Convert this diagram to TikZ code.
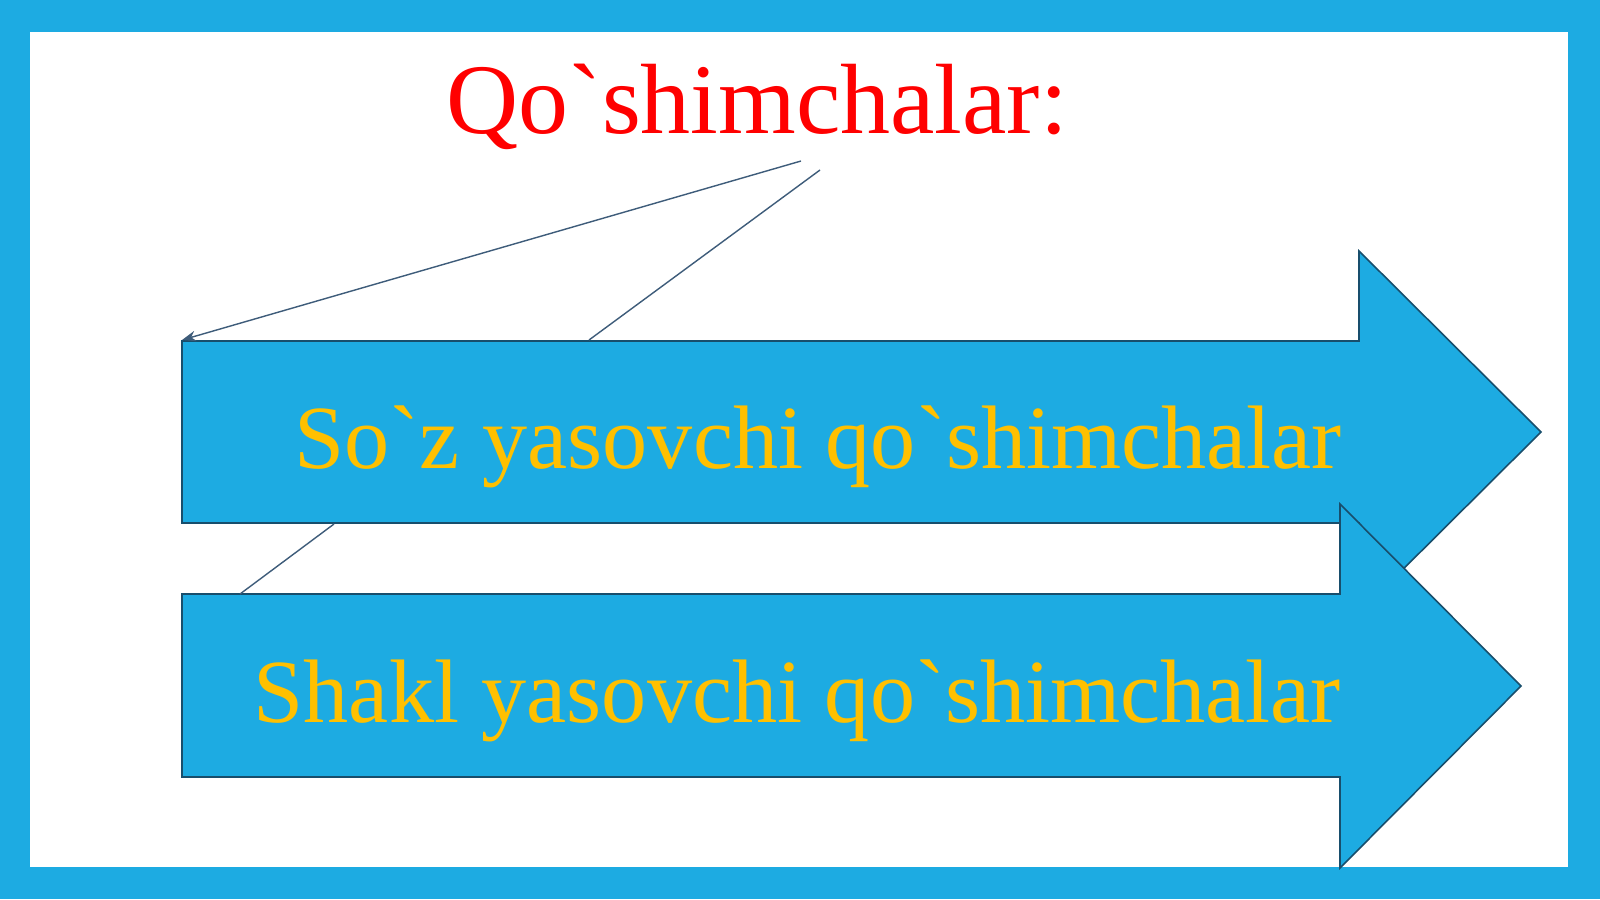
\documentclass[tikz,border=0pt]{standalone}
\usepackage{fontspec}
\newfontfamily\slidefont{Liberation Serif}
\usetikzlibrary{arrows.meta}
\definecolor{frameblue}{RGB}{29,171,226}
\definecolor{edgeblue}{RGB}{24,78,108}
\definecolor{lineblue}{RGB}{62,92,122}
\definecolor{txtgold}{RGB}{255,192,0}
\begin{document}
\begin{tikzpicture}[x=0.01cm,y=-0.01cm,
  blockarrow/.style={fill=frameblue,draw=edgeblue,line width=0.45pt,line join=miter},
  armtext/.style={font=\slidefont\fontsize{25.65}{30}\selectfont,text=txtgold,anchor=base west,inner sep=0pt},
  link/.style={draw=lineblue,line width=0.4pt},
]
% slide frame
\fill[frameblue] (0,0) rectangle (1600,899);
\fill[white] (30,32) rectangle (1568,867);
\node[font=\slidefont\fontsize{28.4}{34}\selectfont,text=red,anchor=base west,inner sep=0pt] (title) at (446,133) {Qo`shimchalar:};
% upper arrow
\draw[blockarrow] (182,341) -- (1359,341) -- (1359,251) -- (1541,432) -- (1359,613) -- (1359,523) -- (182,523) -- cycle;
\node[armtext] (suz) at (294,468) {So`z yasovchi qo`shimchalar};
% lower arrow
\draw[blockarrow] (182,594) -- (1340,594) -- (1340,504) -- (1521,686) -- (1340,868) -- (1340,777) -- (182,777) -- cycle;
\node[armtext] (shakl) at (253,722) {Shakl yasovchi qo`shimchalar};
% connectors
\coordinate (t1) at (801,161);
\coordinate (t2) at (820,170);
\coordinate (a1) at (182,340);
\coordinate (a2) at (589,340);
\coordinate (b1) at (334,524);
\coordinate (b2) at (240,594);
\draw[link,-{Stealth[length=4pt,width=3pt]}] (t1) -- (a1);
\draw[link] (t2) -- (a2);
\draw[link] (b1) -- (b2);
\end{tikzpicture}
\end{document}
